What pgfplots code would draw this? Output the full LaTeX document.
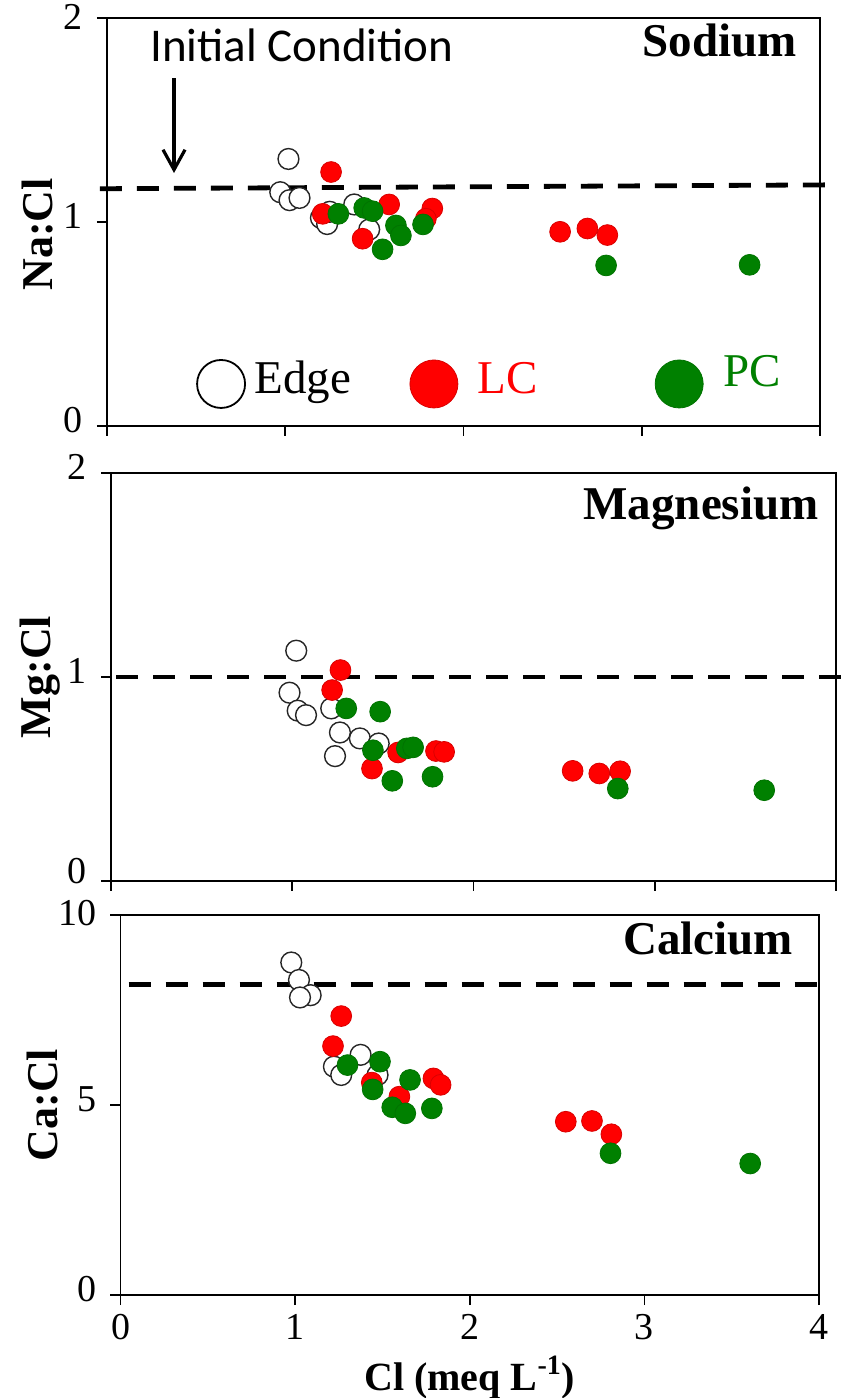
\documentclass[border=0pt]{standalone}
\usepackage{fontspec}
\setmainfont{Liberation Serif}
\newfontfamily\calibri{Carlito}
\usepackage{pgfplots}
\pgfplotsset{compat=1.18}
\usetikzlibrary{arrows.meta}
\definecolor{pcgreen}{RGB}{0,128,0}
\definecolor{lcred}{RGB}{255,0,0}
\pgfplotsset{
  panel/.style={
    scale only axis,
    anchor=south west,
    xmin=0, xmax=4,
    axis line style={line width=0.8pt},
    tick style={line width=0.8pt, black},
    tick align=outside,
    xtick={0,1,2,3,4},
    xtick pos=bottom, ytick pos=left,
    major tick length=5pt,
    clip=false,
    /pgf/number format/assume math mode=true,
    ticklabel style={font=\fontsize{19}{21}\selectfont, inner sep=1pt, text height=0.68em, text depth=0pt},
    yticklabel style={xshift=-6pt},
    ylabel style={font=\fontsize{22}{26}\selectfont\bfseries, anchor=center},
  },
  edge/.style={only marks, mark=*, mark size=5.2pt, mark options={fill=white, draw=black!85, line width=0.7pt}},
  lc/.style={only marks, mark=*, mark size=5.2pt, mark options={fill=lcred, draw=lcred!85!black, line width=0.4pt}},
  pc/.style={only marks, mark=*, mark size=5.2pt, mark options={fill=pcgreen, draw=pcgreen!90!black, line width=0.4pt}},
  ic/.style={black, line width=2.4pt, dash pattern=on 11pt off 7.5pt},
}
\begin{document}
\begin{tikzpicture}
\path[use as bounding box] (0,0) rectangle (422pt,699pt);
% ---------------- Sodium
\begin{axis}[panel, at={(53.5pt,486pt)}, width=356.5pt, height=204pt,
  ymin=0, ymax=2, ytick={0,1}, xticklabels={},
  extra y ticks={2}, extra y tick style={yticklabel style={yshift=-2.5pt}},
  ylabel={Na:Cl}, ylabel style={at={(axis description cs:-0.098,0.47)}}]
\addplot[ic] coordinates {(-0.04,1.163) (4.06,1.182)};
\addplot[edge] coordinates {(1.018,1.309) (0.972,1.146) (1.024,1.107) (1.080,1.118) (1.20,1.02) (1.235,0.99) (1.25,1.05) (1.387,1.086) (1.471,0.963)};
\addplot[lc] coordinates {(1.257,1.245) (1.21,1.04) (1.583,1.086) (1.434,0.918) (1.825,1.066) (1.789,1.016) (2.542,0.952) (2.695,0.968) (2.807,0.936)};
\addplot[pc] coordinates {(1.298,1.040) (1.443,1.069) (1.49,1.053) (1.621,0.983) (1.649,0.934) (1.546,0.866) (1.773,0.988) (2.80,0.787) (3.605,0.79)};
% legend
\addplot[only marks, mark=*, mark size=12pt, mark options={fill=white, draw=black, line width=0.9pt}] coordinates {(0.64,0.206)};
\addplot[lc, mark size=12pt] coordinates {(1.834,0.206)};
\addplot[pc, mark size=12pt] coordinates {(3.21,0.206)};
\node[anchor=base west, inner sep=0, font=\fontsize{23.5}{28}\selectfont] at (axis cs:0.826,0.160) {Edge};
\node[anchor=base west, inner sep=0, font=\fontsize{23.5}{28}\selectfont, text=lcred] at (axis cs:2.079,0.160) {LC};
\node[anchor=base west, inner sep=0, font=\fontsize{23.5}{28}\selectfont, text=pcgreen] at (axis cs:3.455,0.193) {PC};
\node[anchor=base east, inner sep=0, font=\fontsize{23.5}{28}\selectfont\bfseries] at (axis cs:3.872,1.812) {Sodium};
\node[anchor=base west, inner sep=0, font=\calibri\fontsize{23.5}{28}\selectfont] at (axis cs:0.24,1.787) {Initial Condition};
\draw[-{Straight Barb[length=10pt,width=11pt]}, line width=1.6pt] (axis cs:0.376,1.705) -- (axis cs:0.376,1.24);
\end{axis}
% ---------------- Magnesium
\begin{axis}[panel, at={(55.5pt,258.5pt)}, width=362.5pt, height=204pt,
  ymin=0, ymax=2, ytick={1,2}, xticklabels={},
  extra y ticks={0}, extra y tick style={yticklabel style={yshift=2pt}},
  ylabel={Mg:Cl}, ylabel style={at={(axis description cs:-0.098,0.5)}}]
\addplot[ic] coordinates {(0.03,1.0) (4.04,1.0)};
\addplot[edge] coordinates {(1.022,1.129) (0.985,0.923) (1.030,0.835) (1.076,0.813) (1.215,0.846) (1.263,0.728) (1.373,0.699) (1.477,0.674) (1.236,0.612)};
\addplot[lc] coordinates {(1.266,1.034) (1.22,0.936) (1.44,0.551) (1.584,0.630) (1.793,0.637) (1.838,0.633) (2.547,0.540) (2.694,0.527) (2.809,0.538)};
\addplot[pc] coordinates {(1.298,0.846) (1.485,0.830) (1.445,0.641) (1.632,0.650) (1.667,0.655) (1.552,0.491) (1.774,0.511) (2.796,0.453) (3.604,0.445)};
\node[anchor=base east, inner sep=0, font=\fontsize{23.5}{28}\selectfont\bfseries] at (axis cs:3.906,1.774) {Magnesium};
\end{axis}
% ---------------- Calcium
\begin{axis}[panel, at={(60.25pt,51.5pt)}, width=349.25pt, height=190pt,
  ymin=0, ymax=10, ytick={0,5},
  extra y ticks={10}, extra y tick style={yticklabel style={yshift=-2pt}},
  xticklabel style={anchor=base, yshift=-17pt},
  ylabel={Ca:Cl}, ylabel style={at={(axis description cs:-0.112,0.5)}},
  xlabel={Cl (meq L\textsuperscript{-1})},
  xlabel style={font=\fontsize{20}{24}\selectfont\bfseries, at={(axis description cs:0.5,-0.25)}, anchor=base}]
\addplot[ic] coordinates {(0.046,8.18) (4.03,8.18)};
\addplot[edge] coordinates {(0.978,8.75) (1.022,8.29) (1.089,7.89) (1.028,7.83) (1.375,6.32) (1.222,6.01) (1.264,5.79) (1.472,5.79)};
\addplot[lc] coordinates {(1.264,7.34) (1.217,6.55) (1.439,5.59) (1.597,5.22) (1.792,5.70) (1.833,5.53) (2.55,4.56) (2.70,4.58) (2.811,4.23)};
\addplot[pc] coordinates {(1.30,6.05) (1.486,6.14) (1.444,5.41) (1.658,5.66) (1.556,4.94) (1.631,4.78) (1.783,4.91) (2.806,3.73) (3.606,3.46)};
\node[anchor=base east, inner sep=0, font=\fontsize{23.5}{28}\selectfont\bfseries] at (axis cs:3.853,8.95) {Calcium};
\end{axis}
\end{tikzpicture}
\end{document}
